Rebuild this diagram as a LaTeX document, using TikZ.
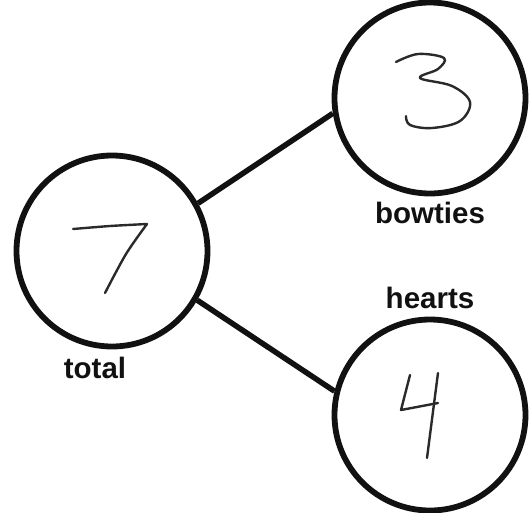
\documentclass[tikz,border=0pt]{standalone}
\usepackage{fontspec}
\setmainfont{Liberation Sans}
\usepackage{tikz}
\usetikzlibrary{positioning}
\definecolor{cInk}{HTML}{111111}
\definecolor{cPen}{HTML}{2A2A2A}

\begin{document}
\begin{tikzpicture}[x=1pt,y=-1pt,
  bond/.style={circle,draw=cInk,line width=5.8pt,minimum size=191pt,inner sep=0pt},
  link/.style={draw=cInk,line width=5.5pt},
  pen/.style={draw=cPen,line width=2.4pt,line cap=round,line join=round},
  lbl/.style={font=\fontsize{29.5}{31}\selectfont\bfseries,text=cInk,inner sep=0pt}]
  \useasboundingbox (0,0) rectangle (530,512);
  % circles of the number bond
  \node[bond] (whole) at (112,251) {};
  \node[bond] (partA) at (430,98) {};
  \node[bond] (partB) at (430,415) {};
  \draw[link] (whole.29) -- (partA.189);
  \draw[link] (whole.-30) -- (partB.166);
  % labels
  \node[lbl] (lblA) at (430,213) {bowties};
  \node[lbl] (lblB) at (430,298) {hearts};
  \node[lbl] (lblW) at (95,368) {total};
  % hand written digits
  \draw[pen] plot[smooth,tension=0.4] coordinates {(73,229) (110,226) (147,224)}
     -- plot[smooth,tension=0.5] coordinates {(147,224) (126,254) (105,293)};
  \draw[pen] plot[smooth,tension=0.6] coordinates {(396,62) (418,54) (444,58) (438,69) (420,78)
     (452,86) (470,102) (460,121) (432,128) (410,125) (406,116)};
  \draw[pen] (410,375) -- (401,410) -- (438,403);
  \draw[pen] (438,373) -- (427,458);
\end{tikzpicture}
\end{document}
